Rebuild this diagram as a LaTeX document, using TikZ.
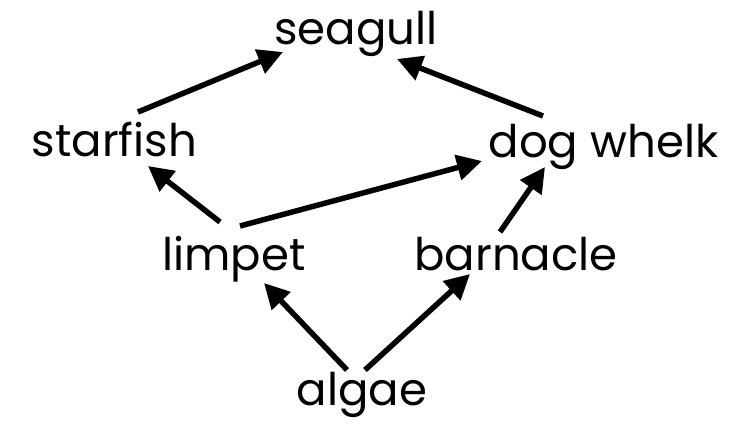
\documentclass[tikz,border=0pt]{standalone}
\usepackage{fontspec}
\setmainfont{Poppins}
\usetikzlibrary{arrows.meta}
\begin{document}
\begin{tikzpicture}[x=1pt,y=-1pt,
  lbl/.style={anchor=base,inner sep=0pt,font=\fontsize{45}{50}\selectfont},
  arr/.style={line width=5.5pt,-{Triangle[length=25pt,width=25pt]}}]
\useasboundingbox[fill=white] (0,0) rectangle (750,424);
\node[lbl] (seagull) at (356,44) {seagull};
\node[lbl] (starfish) at (114.5,156) {starfish};
\node[lbl] (dogwhelk) at (603.5,157) {dog whelk};
\node[lbl] (limpet) at (234,270) {limpet};
\node[lbl] (barnacle) at (516,270) {barnacle};
\node[lbl] (algae) at (362,405) {algae};
\draw[arr] ([shift={(23.5,-44)}]starfish.base) -- ([shift={(-73,8)}]seagull.base);
\draw[arr] ([shift={(-60.5,-41)}]dogwhelk.base) -- ([shift={(41,15)}]seagull.base);
\draw[arr] ([shift={(-14,-48)}]limpet.base) -- ([shift={(33.5,10)}]starfish.base);
\draw[arr] ([shift={(6,-44)}]limpet.base) -- ([shift={(-121.5,4)}]dogwhelk.base);
\draw[arr] ([shift={(-16,-38)}]barnacle.base) -- ([shift={(-58.5,10)}]dogwhelk.base);
\draw[arr] ([shift={(-15,-35)}]algae.base) -- ([shift={(30,13)}]limpet.base);
\draw[arr] ([shift={(3,-35)}]algae.base) -- ([shift={(-46,4)}]barnacle.base);
\end{tikzpicture}
\end{document}
